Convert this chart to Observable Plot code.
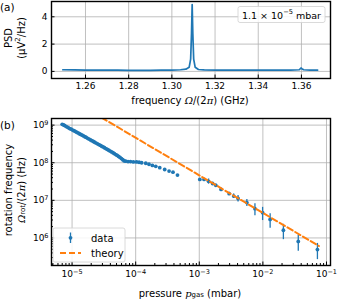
<!DOCTYPE html>
<html><head><meta charset="utf-8">
<script src="https://cdn.jsdelivr.net/npm/d3@7"></script>
<script src="https://cdn.jsdelivr.net/npm/@observablehq/plot@0.6"></script>
<style>
body{margin:0;background:#fff;}
#chart{position:relative;width:338px;height:300px;font-family:"DejaVu Sans",sans-serif;}
#chart svg{position:absolute;left:0;overflow:visible;background:transparent}
</style></head><body><div id="chart"></div>
<script>
// ---------- Panel (a): power spectral density ----------
const psdFreq = [1.2495, 1.255, 1.26, 1.265, 1.27, 1.275, 1.28, 1.285, 1.29, 1.295, 1.30, 1.304, 1.3065, 1.308, 1.3087, 1.3091, 1.3094, 1.3097, 1.3101, 1.3108, 1.3123, 1.315, 1.32, 1.325, 1.33, 1.335, 1.34, 1.345, 1.35, 1.355, 1.359, 1.3598, 1.3602, 1.361, 1.364, 1.3675];
const psdVal  = [0.12, 0.11, 0.10, 0.10, 0.09, 0.09, 0.08, 0.08, 0.08, 0.09, 0.10, 0.12, 0.16, 0.30, 0.9, 2.8, 4.9, 2.8, 0.9, 0.30, 0.14, 0.11, 0.10, 0.09, 0.09, 0.09, 0.09, 0.09, 0.09, 0.10, 0.12, 0.25, 0.20, 0.12, 0.10, 0.10];
const psdXTicks = [1.26, 1.28, 1.30, 1.32, 1.34, 1.36];
const psdYTicks = [0, 2, 4];
const insetLabel = ["1.1 × 10", "−5", " mbar"];

// ---------- Panel (b): rotation frequency vs pressure ----------
const contPressure = [7.0e-6, 7.3e-6, 7.6e-6, 8.0e-6, 8.4e-6, 8.8e-6, 9.2e-6, 9.7e-6, 1.02e-5, 1.07e-5, 1.12e-5, 1.18e-5, 1.24e-5, 1.30e-5, 1.37e-5, 1.44e-5, 1.51e-5, 1.59e-5, 1.67e-5, 1.76e-5, 1.85e-5, 1.95e-5, 2.05e-5, 2.16e-5, 2.27e-5, 2.39e-5, 2.51e-5, 2.64e-5, 2.78e-5, 2.92e-5, 3.07e-5, 3.23e-5, 3.40e-5, 3.58e-5, 3.77e-5, 3.97e-5, 4.18e-5, 4.40e-5, 4.63e-5, 4.87e-5, 5.12e-5, 5.39e-5, 5.67e-5, 5.97e-5, 6.28e-5, 6.6e-5,
  6.97e-5, 7.6e-5, 8.3e-5, 9.2e-5, 1.03e-4, 1.13e-4, 1.24e-4, 1.44e-4, 1.62e-4, 1.83e-4, 2.07e-4, 2.39e-4, 2.86e-4, 3.35e-4, 3.86e-4, 4.54e-4];
const contOmega = [1.05e9, 1.02e9, 9.8e8, 9.3e8, 8.9e8, 8.5e8, 8.1e8, 7.8e8, 7.4e8, 7.1e8, 6.8e8, 6.5e8, 6.2e8, 5.9e8, 5.65e8, 5.4e8, 5.15e8, 4.9e8, 4.7e8, 4.45e8, 4.25e8, 4.05e8, 3.85e8, 3.67e8, 3.5e8, 3.34e8, 3.18e8, 3.04e8, 2.9e8, 2.76e8, 2.63e8, 2.5e8, 2.38e8, 2.26e8, 2.15e8, 2.04e8, 1.94e8, 1.84e8, 1.74e8, 1.65e8, 1.56e8, 1.47e8, 1.38e8, 1.29e8, 1.2e8, 1.12e8,
  1.10e8, 1.07e8, 1.07e8, 1.05e8, 1.05e8, 1.03e8, 1.0e8, 9.7e7, 9.1e7, 8.5e7, 8.0e7, 7.4e7, 6.6e7, 6.0e7, 5.6e7, 4.7e7];
const errPressure = [1.02e-3, 1.19e-3, 1.40e-3, 1.62e-3, 1.82e-3, 2.2e-3, 2.95e-3, 3.47e-3, 4.07e-3, 5.6e-3, 7.5e-3, 9.9e-3, 1.30e-2, 2.1e-2, 3.6e-2, 7.2e-2];
const errOmega    = [3.6e7, 3.6e7, 3.2e7, 2.8e7, 2.5e7, 1.95e7, 1.5e7, 1.3e7, 1.12e7, 8.7e6, 6.0e6, 4.7e6, 3.1e6, 1.6e6, 8.1e5, 4.9e5];
const errSize     = [2e6, 2e6, 5e6, 2e6, 2e6, 1.5e6, 1.5e6, 1.8e6, 2.2e6, 1.8e6, 2.1e6, 1.8e6, 1.3e6, 7.0e5, 3.7e5, 2.25e5];
const theoryPressure = [2.9e-5, 0.076];
const theoryOmega    = [1.59e9, 6.1e5];
const pXTicks = [1e-5, 1e-4, 1e-3, 1e-2, 1e-1];
const pYTicks = [1e6, 1e7, 1e8, 1e9];
const legendLabels = ["data", "theory"];

const blue = "#1f77b4", orange = "#ff7f0e", gridC = "#b0b0b0";
const expo = v => String(Math.round(Math.log10(v))).replace("-", "−");
const pow10 = v => "10^" + expo(v);
const blank = () => "";
function minorLog(lo, hi) {
  const out = [];
  for (let e = Math.floor(Math.log10(lo)); e <= Math.ceil(Math.log10(hi)); e++)
    for (let m = 2; m <= 9; m++) { const v = m * 10 ** e; if (v >= lo && v <= hi) out.push(v); }
  return out;
}
const tickFont = {fontSize: 9, fontFamily: "DejaVu Sans", fill: "#000"};

const chart = document.getElementById("chart");

// ---------- Panel (a) ----------
const psd = psdFreq.map((f, i) => ({f, v: psdVal[i]}));
const xA = [1.24426, 1.37346], yA = [-0.52, 5.12];
const plotA = Plot.plot({
  width: 338, height: 110, marginLeft: 51, marginRight: 8, marginTop: 1, marginBottom: 32,
  style: {fontFamily: "DejaVu Sans", fontSize: "9px", background: "transparent", overflow: "visible"},
  x: {domain: xA}, y: {domain: yA},
  marks: [
    Plot.gridX(psdXTicks, {stroke: gridC, strokeOpacity: 1, strokeWidth: 0.8}),
    Plot.gridY(psdYTicks, {stroke: gridC, strokeOpacity: 1, strokeWidth: 0.8}),
    Plot.line(psd, {x: "f", y: "v", stroke: blue, strokeWidth: 1.7}),
    Plot.axisX(psdXTicks, {tickSize: 0, tickPadding: 4, tickFormat: d => d.toFixed(2), label: null, ...tickFont}),
    Plot.axisX(psdXTicks, {tickSize: -3.5, tickFormat: blank, label: null}),
    Plot.axisY(psdYTicks, {tickSize: 0, tickPadding: 4, tickFormat: d => String(d), label: null, ...tickFont}),
    Plot.axisY(psdYTicks, {tickSize: -3.5, tickFormat: blank, label: null}),
    Plot.frame({stroke: "#000", strokeWidth: 1.4})
  ]
});
plotA.style.top = "0px";
chart.appendChild(plotA);

// ---------- Panel (b) ----------
const cont = contPressure.map((p, i) => ({p, o: contOmega[i]}));
const errs = errPressure.map((p, i) => ({p, o: errOmega[i], e: errSize[i]}));
const theory = theoryPressure.map((p, i) => ({p, o: theoryOmega[i]}));
const xB = [4.75e-6, 0.1156], yB = [1.85e5, 1.5e9];
const plotB = Plot.plot({
  width: 338, height: 189, marginLeft: 51, marginRight: 8, marginTop: 8, marginBottom: 34,
  style: {fontFamily: "DejaVu Sans", fontSize: "9px", background: "transparent", overflow: "visible"},
  x: {type: "log", domain: xB}, y: {type: "log", domain: yB},
  marks: [
    Plot.gridX(pXTicks, {stroke: gridC, strokeOpacity: 1, strokeWidth: 0.8}),
    Plot.gridY(pYTicks, {stroke: gridC, strokeOpacity: 1, strokeWidth: 0.8}),
    Plot.dot(cont, {x: "p", y: "o", r: 1.9, fill: blue, stroke: null}),
    Plot.ruleX(errs, {x: "p", y1: d => d.o - d.e, y2: d => d.o + d.e, stroke: blue, strokeWidth: 1.3}),
    Plot.dot(errs, {x: "p", y: "o", r: 1.9, fill: blue, stroke: null}),
    Plot.line(theory, {x: "p", y: "o", stroke: orange, strokeWidth: 2, strokeDasharray: "6,3", clip: true}),
    Plot.axisX(pXTicks, {tickSize: 0, tickPadding: 5, tickFormat: pow10, label: null, ...tickFont}),
    Plot.axisX(pXTicks, {tickSize: -3.5, tickFormat: blank, label: null}),
    Plot.axisX(minorLog(xB[0], xB[1]), {tickSize: -2, tickFormat: blank, label: null}),
    Plot.axisY(pYTicks, {tickSize: 0, tickPadding: 3, tickFormat: pow10, label: null, ...tickFont}),
    Plot.axisY(pYTicks, {tickSize: -3.5, tickFormat: blank, label: null}),
    Plot.axisY(minorLog(yB[0], yB[1]), {tickSize: -2, tickFormat: blank, label: null}),
    Plot.frame({stroke: "#000", strokeWidth: 1.4})
  ]
});
plotB.style.top = "110px";
chart.appendChild(plotB);

// rebuild "10^n" tick labels with real superscripts
d3.select(plotB).selectAll("text").each(function() {
  const s = this.textContent;
  if (!s.startsWith("10^")) return;
  const el = d3.select(this);
  el.text(null);
  el.append("tspan").text("10");
  el.append("tspan").attr("font-size", "6.5px").attr("dy", "-0.45em").text(s.slice(3));
});

// ---------- Labels & annotations ----------
const sA = d3.select(plotA), sB = d3.select(plotB);
function addText(sel, x, y, parts, opts = {}) {
  const size = opts.size || 10;
  const t = sel.append("text").attr("x", x).attr("y", y)
    .attr("font-family", "DejaVu Sans").attr("font-size", size)
    .attr("text-anchor", opts.anchor || "middle").attr("dominant-baseline", "central").attr("fill", "#000");
  if (opts.rotate) t.attr("transform", `rotate(-90,${x},${y})`);
  for (const p of parts) {
    const ts = t.append("tspan").text(p.t);
    if (p.i) ts.attr("font-style", "italic").attr("font-family", "DejaVu Serif");
    if (p.sub) ts.attr("font-size", size * 0.7).attr("baseline-shift", "-25%");
    if (p.sup) ts.attr("font-size", size * 0.7).attr("baseline-shift", "40%");
  }
  return t;
}
// panel letters
addText(sA, 0, 7, [{t: "(a)"}], {anchor: "start", size: 10.5});
addText(sB, 0, 15, [{t: "(b)"}], {anchor: "start", size: 10.5});
// panel a axis labels
addText(sA, 190, 100, [{t: "frequency "}, {t: "Ω", i: 1}, {t: "/(2"}, {t: "π", i: 1}, {t: ") (GHz)"}]);
addText(sA, 8, 38, [{t: "PSD"}], {rotate: 1});
addText(sA, 21, 38, [{t: "(μV"}, {t: "2", sup: 1}, {t: "/Hz)"}], {rotate: 1});
// panel b axis labels
addText(sB, 190, 183, [{t: "pressure "}, {t: "p", i: 1}, {t: "gas", sub: 1}, {t: " (mbar)"}]);
addText(sB, 8, 80, [{t: "rotation frequency"}], {rotate: 1});
addText(sB, 21, 80, [{t: "Ω", i: 1}, {t: "rot", sub: 1}, {t: "/(2"}, {t: "π", i: 1}, {t: ") (Hz)"}], {rotate: 1});

// inset label in panel a
sA.append("rect").attr("x", 238).attr("y", 6.5).attr("width", 87).attr("height", 16).attr("rx", 2)
  .attr("fill", "#fff").attr("fill-opacity", 0.85).attr("stroke", "#d0d0d0").attr("stroke-width", 0.8);
addText(sA, 281.5, 15, [{t: insetLabel[0]}, {t: insetLabel[1], sup: 1}, {t: insetLabel[2]}], {size: 9.5});

// legend in panel b
const lg = sB.append("g");
lg.append("rect").attr("x", 53).attr("y", 118).attr("width", 72).attr("height", 34).attr("rx", 2)
  .attr("fill", "#fff").attr("fill-opacity", 0.85).attr("stroke", "#d0d0d0").attr("stroke-width", 0.8);
lg.append("line").attr("x1", 70.5).attr("x2", 70.5).attr("y1", 122.5).attr("y2", 133).attr("stroke", blue).attr("stroke-width", 1.3);
lg.append("circle").attr("cx", 70.5).attr("cy", 127.8).attr("r", 1.9).attr("fill", blue);
lg.append("line").attr("x1", 60).attr("x2", 81).attr("y1", 143).attr("y2", 143).attr("stroke", orange).attr("stroke-width", 2).attr("stroke-dasharray", "6,3");
addText(lg, 91, 128, [{t: legendLabels[0]}], {anchor: "start", size: 10});
addText(lg, 91, 143, [{t: legendLabels[1]}], {anchor: "start", size: 10});
</script></body></html>
